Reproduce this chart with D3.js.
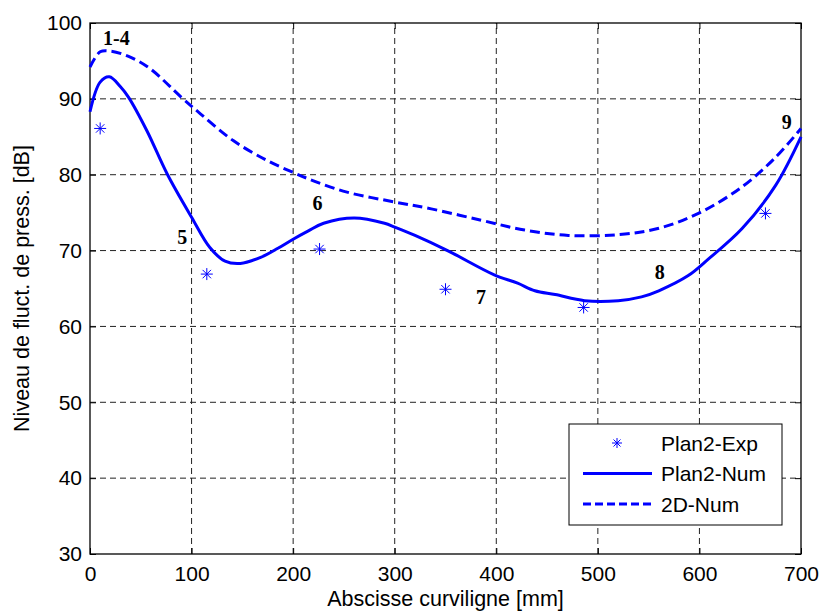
<!DOCTYPE html>
<html>
<head>
<meta charset="utf-8">
<script src="https://cdn.jsdelivr.net/npm/d3@7"></script>
<style>
  body { margin: 0; background: #fff; }
  svg { display: block; }
</style>
</head>
<body>
<script>
"use strict";

// DATA
const xTicks = [0, 100, 200, 300, 400, 500, 600, 700];
const yTicks = [30, 40, 50, 60, 70, 80, 90, 100];

// Plan2-Exp : measured points
const expPoints = [
  [10, 86.1], [115, 66.9], [226, 70.2], [350, 64.9], [486, 62.5], [665, 74.9]
];

// Plan2-Num : solid line
const plan2Num = [
  [0, 88.3], [10, 92.2], [19, 92.9], [30, 91.6], [38, 90.2], [56, 85.8],
  [76, 80.1], [100, 74.4], [118, 70.4], [133, 68.6], [148, 68.3], [168, 69.1],
  [185, 70.3], [200, 71.5], [215, 72.6], [230, 73.6], [260, 74.3], [290, 73.6],
  [300, 73.1], [320, 72.0], [352, 70.0], [398, 66.8], [421, 65.7], [438, 64.7],
  [458, 64.2], [487, 63.4], [520, 63.4], [543, 63.9], [560, 64.7], [589, 66.7],
  [609, 68.9], [642, 72.9], [675, 78.6], [700, 85.0]
];

// 2D-Num : dashed line
const num2D = [
  [0, 94.2], [10, 96.2], [20, 96.3], [38, 95.6], [59, 94.0], [90, 90.2],
  [109, 88.0], [141, 84.5], [174, 81.9], [200, 80.3], [220, 79.2], [253, 77.7],
  [300, 76.4], [336, 75.5], [385, 74.0], [428, 72.7], [471, 72.0], [520, 72.1],
  [559, 72.9], [599, 74.9], [642, 78.4], [675, 82.3], [700, 86.1]
];

// point numbers written on the chart
const pointLabels = [
  { text: "1-4", x: 12.8, y: 97.1 },
  { text: "5", x: 86, y: 70.9 },
  { text: "6", x: 219, y: 75.3 },
  { text: "7", x: 380, y: 63.0 },
  { text: "8", x: 556, y: 66.3 },
  { text: "9", x: 681, y: 86.0 }
];

const legendItems = [
  { name: "Plan2-Exp", kind: "star" },
  { name: "Plan2-Num", kind: "solid" },
  { name: "2D-Num", kind: "dash" }
];

// SIZES
const width = 821;
const height = 612;
const margin = { top: 23, right: 20, bottom: 58, left: 90 };
const blue = "#0000ff";
const sans = "Arial, 'Liberation Sans', Helvetica, sans-serif";

const svg = d3.select("body").append("svg")
  .attr("width", width)
  .attr("height", height);

const x = d3.scaleLinear([0, 700], [margin.left, width - margin.right]);
const y = d3.scaleLinear([30, 100], [height - margin.bottom, margin.top]);

// GRID
const grid = svg.append("g")
  .attr("stroke", "#222")
  .attr("stroke-width", 1)
  .attr("stroke-dasharray", "6,4");

grid.selectAll("line.v")
  .data(xTicks.slice(1, -1))
  .join("line")
  .attr("class", "v")
  .attr("x1", (d) => x(d)).attr("x2", (d) => x(d))
  .attr("y1", y(30)).attr("y2", y(100));

grid.selectAll("line.h")
  .data(yTicks.slice(1, -1))
  .join("line")
  .attr("class", "h")
  .attr("y1", (d) => y(d)).attr("y2", (d) => y(d))
  .attr("x1", x(0)).attr("x2", x(700));

// AXES (ticks inside, like matlab)
const xAxis = d3.axisBottom(x).tickValues(xTicks).tickSize(-6).tickPadding(12);
const yAxis = d3.axisLeft(y).tickValues(yTicks).tickSize(-6).tickPadding(8);

svg.append("g")
  .attr("transform", `translate(0,${y(30)})`)
  .call(xAxis)
  .call((g) => g.select(".domain").remove())
  .call((g) => g.selectAll("text").attr("font-family", sans).attr("font-size", 21).attr("fill", "#000"));

svg.append("g")
  .attr("transform", `translate(${x(0)},0)`)
  .call(yAxis)
  .call((g) => g.select(".domain").remove())
  .call((g) => g.selectAll("text").attr("font-family", sans).attr("font-size", 21).attr("fill", "#000"));

// top and right ticks
svg.append("g")
  .attr("transform", `translate(0,${y(100)})`)
  .call(d3.axisTop(x).tickValues(xTicks).tickSize(-6).tickFormat(""))
  .call((g) => g.select(".domain").remove());

svg.append("g")
  .attr("transform", `translate(${x(700)},0)`)
  .call(d3.axisRight(y).tickValues(yTicks).tickSize(-6).tickFormat(""))
  .call((g) => g.select(".domain").remove());

// frame
svg.append("rect")
  .attr("x", x(0)).attr("y", y(100))
  .attr("width", x(700) - x(0)).attr("height", y(30) - y(100))
  .attr("fill", "none")
  .attr("stroke", "#000")
  .attr("stroke-width", 1.3);

// CURVES
const line = d3.line()
  .x((d) => x(d[0]))
  .y((d) => y(d[1]))
  .curve(d3.curveCatmullRom.alpha(0.5));

svg.append("path")
  .datum(num2D)
  .attr("d", line)
  .attr("fill", "none")
  .attr("stroke", blue)
  .attr("stroke-width", 3)
  .attr("stroke-dasharray", "10,5");

svg.append("path")
  .datum(plan2Num)
  .attr("d", line)
  .attr("fill", "none")
  .attr("stroke", blue)
  .attr("stroke-width", 3);

// asterisk marker
const star = (g, r) => {
  g.append("path")
    .attr("d", `M${-r},0H${r}M0,${-r}V${r}M${-r * 0.7},${-r * 0.7}L${r * 0.7},${r * 0.7}M${-r * 0.7},${r * 0.7}L${r * 0.7},${-r * 0.7}`)
    .attr("stroke", blue)
    .attr("stroke-width", 1)
    .attr("fill", "none");
};

svg.append("g")
  .selectAll("g")
  .data(expPoints)
  .join("g")
  .attr("transform", (d) => `translate(${x(d[0])},${y(d[1])})`)
  .each(function () { star(d3.select(this), 6); });

// point numbers
svg.append("g")
  .attr("font-family", "'Times New Roman', 'Liberation Serif', serif")
  .attr("font-weight", "bold")
  .attr("font-size", 20)
  .selectAll("text")
  .data(pointLabels)
  .join("text")
  .attr("x", (d) => x(d.x))
  .attr("y", (d) => y(d.y))
  .text((d) => d.text);

// AXIS TITLES
svg.append("text")
  .attr("x", (x(0) + x(700)) / 2)
  .attr("y", 606)
  .attr("text-anchor", "middle")
  .attr("font-family", sans)
  .attr("font-size", 21.5)
  .text("Abscisse curviligne [mm]");

svg.append("text")
  .attr("transform", `translate(29,${(y(30) + y(100)) / 2}) rotate(-90)`)
  .attr("text-anchor", "middle")
  .attr("font-family", sans)
  .attr("font-size", 21.5)
  .text("Niveau de fluct. de press. [dB]");

// LEGEND
const legend = svg.append("g").attr("transform", "translate(569,424)");

legend.append("rect")
  .attr("width", 213).attr("height", 101)
  .attr("fill", "#fff")
  .attr("stroke", "#000")
  .attr("stroke-width", 1);

const rows = legend.selectAll("g")
  .data(legendItems)
  .join("g")
  .attr("transform", (d, i) => `translate(0,${19 + i * 30.5})`);

rows.filter((d) => d.kind !== "star")
  .append("line")
  .attr("x1", 14).attr("x2", 83)
  .attr("stroke", blue)
  .attr("stroke-width", 3)
  .attr("stroke-dasharray", (d) => (d.kind === "dash" ? "8,4" : null));

rows.filter((d) => d.kind === "star")
  .append("g")
  .attr("transform", "translate(48,0)")
  .each(function () { star(d3.select(this), 5); });

rows.append("text")
  .attr("x", 92)
  .attr("dy", "0.36em")
  .attr("font-family", sans)
  .attr("font-size", 21)
  .text((d) => d.name);
</script>
</body>
</html>
